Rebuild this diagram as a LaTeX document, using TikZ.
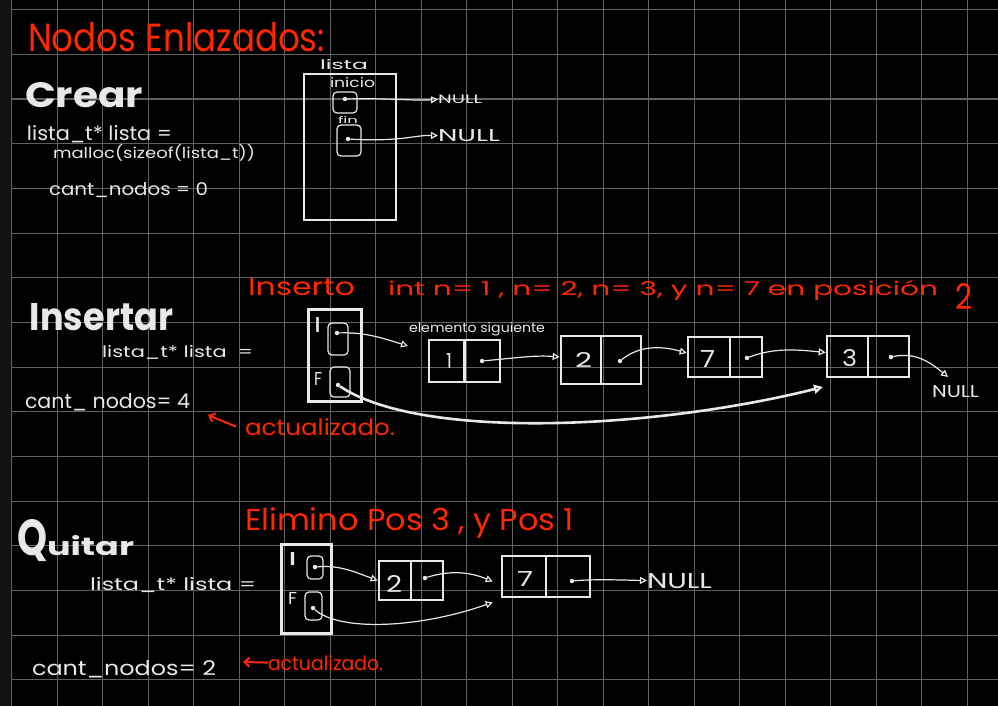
\documentclass[tikz,border=0pt]{standalone}
\usepackage{fontspec}
\setmainfont{Poppins}
\usepackage{graphicx}
\usetikzlibrary{arrows.meta,calc}
\definecolor{ink}{RGB}{232,232,232}
\definecolor{redink}{RGB}{255,40,0}
\definecolor{gridc}{RGB}{96,96,96}
\definecolor{strip}{RGB}{18,18,18}
\newcommand{\hw}[3]{\resizebox{#1pt}{#2pt}{#3}}
\begin{document}
\begin{tikzpicture}[x=1pt,y=-1pt,
  txt/.style={anchor=base west, inner sep=0pt, outer sep=0pt, text=ink},
  rtxt/.style={txt, text=redink},
  hdrbox/.style={draw=ink, line width=2.6pt, inner sep=0pt},
  cell/.style={draw=ink, line width=2.6pt, inner sep=0pt},
  divider/.style={draw=ink, line width=2.6pt},
  ptr/.style={draw=ink, line width=1.2pt, rounded corners=4pt, inner sep=0pt},
  dot/.style={circle, fill=ink, inner sep=0pt, minimum size=4.5pt},
  link/.style={draw=ink, line width=1.2pt, -{Triangle[open,length=7pt,width=7pt]}},
  biglink/.style={draw=ink, line width=2.6pt, -{Triangle[open,length=9pt,width=9pt]}},
  redarrow/.style={draw=redink, line width=2pt, -{Straight Barb[length=5pt,width=9pt]}},
  gridline/.style={draw=gridc, line width=1.1pt}
]
\useasboundingbox (0,0) rectangle (998,706);
\fill[black] (0,0) rectangle (998,706);
\fill[strip] (0,0) rectangle (11,706);
\foreach \k in {0,...,21} \draw[gridline] ({11.7+45.5*\k},0) -- ({11.7+45.5*\k},706);
\foreach \k in {0,...,15} \draw[gridline] (11.7,{9.7+44.67*\k}) -- (998,{9.7+44.67*\k});

% ---------- Crear ----------
\node[rtxt] (title) at (28,52) {\hw{297}{29}{Nodos Enlazados:}};
\node[txt] (crear) at (25,108) {\bfseries\hw{118}{25}{Crear}};
\node[txt] (decl1) at (27,140) {\hw{145}{15}{lista\_t* lista =}};
\node[txt] (malloc) at (53,159) {\hw{202}{14}{malloc(sizeof(lista\_t))}};
\node[txt] (cant1) at (49,195) {\hw{159}{13}{cant\_nodos = 0}};
\node[txt] (listalbl) at (320,70) {\hw{48}{10}{lista}};
\node[hdrbox, minimum width=92pt, minimum height=146pt] (listabox) at (350,147) {};
\node[txt] (inicio) at (330,88) {\hw{45}{10}{inicio}};
\node[ptr, minimum width=24pt, minimum height=21pt] (p1) at (345,102.5) {};
\node[dot] (d1) at (345,99) {};
\node[txt] (fin) at (338,123.5) {\hw{20}{7}{fin}};
\node[ptr, minimum width=24pt, minimum height=31pt] (p2) at (349,140.5) {};
\node[dot] (d2) at (348,139) {};
\node[txt] (null1) at (438,103.5) {\hw{44}{8.5}{NULL}};
\node[txt] (null2) at (438,141.5) {\hw{62}{12}{NULL}};
\draw[link] (d1) .. controls (390,98) and (415,101) .. (null1.west);
\draw[link] (d2) .. controls (400,142) and (415,135) .. (null2.west);

% ---------- Insertar ----------
\node[rtxt] (ins) at (248,295) {\hw{107}{17}{Inserto}};
\node[rtxt] (insdesc) at (388,295) {\hw{550}{15}{int n= 1 , n= 2, n= 3, y n= 7 en posición}};
\node[rtxt] (insdesc2) at (955,309) {\hw{17}{26}{2}};
\node[txt] (insertar) at (30,330) {\bfseries\hw{143}{27}{Insertar}};
\node[txt] (decl2) at (102,357) {\hw{151}{12}{lista\_t* lista \ =}};
\node[txt] (cant2) at (25,408) {\hw{165}{15}{cant\_ nodos= 4}};
\node[rtxt] (act1) at (245,435) {\hw{150}{17}{actualizado.}};
\coordinate (a1tip) at (208,415);
\draw[redarrow] ($(act1.west)+(-9,0)$) -- (a1tip);
\node[txt] (elem) at (409,332) {\hw{136}{10}{elemento siguiente}};

\node[hdrbox, minimum width=53pt, minimum height=92pt] (hdr2) at (335,355.5) {};
\node[txt] (I2) at (314,332) {\hw{7}{15}{I}};
\node[txt] (F2) at (314,385) {\hw{8}{13}{F}};
\node[ptr, minimum width=20pt, minimum height=32pt] (pI2) at (338,339) {};
\node[dot] (dI2) at (337,333) {};
\node[ptr, minimum width=20pt, minimum height=30pt] (pF2) at (340,382) {};
\node[dot] (dF2) at (338,385) {};

\node[cell, minimum width=71pt, minimum height=42pt] (n1) at (464.5,361) {};
\draw[divider] (n1.north) -- (n1.south);
\node[txt] (v1) at (446,368) {\hw{6}{15}{1}};
\node[dot] (dn1) at (482,361) {};

\node[cell, minimum width=80pt, minimum height=48pt] (n2) at (601,360) {};
\draw[divider] (n2.north) -- (n2.south);
\node[txt] (v2) at (575,367) {\hw{17}{15}{2}};
\node[dot] (dn2) at (620,361) {};

\node[cell, minimum width=74pt, minimum height=40pt] (n7) at (725,357) {};
\draw[divider] ($(n7.north)+(5,0)$) -- ($(n7.south)+(5,0)$);
\node[txt] (v7) at (700,367) {\hw{15}{17}{7}};
\node[dot] (dn7) at (747,358) {};

\node[cell, minimum width=82pt, minimum height=41pt] (n3) at (868,356.5) {};
\draw[divider] (n3.north) -- (n3.south);
\node[txt] (v3) at (842,366) {\hw{15}{17}{3}};
\node[dot] (dn3) at (891,357) {};

\node[txt] (null3) at (932,397) {\hw{47}{12}{NULL}};
\coordinate (elemfree) at (408,346);
\coordinate (null3tip) at (948,377);
\coordinate (longtip) at (823,387);
\draw[link] (dI2) .. controls (365,332) and (382,338) .. (elemfree);
\draw[link] (dn1) .. controls (515,358) and (535,355) .. ($(n2.west)+(0,-3)$);
\draw[link] (dn2) .. controls (640,345) and (662,346) .. ($(n7.west)+(0,-4)$);
\draw[link] (dn7) .. controls (775,347) and (800,350) .. ($(n3.west)+(0,-4)$);
\draw[link] (dn3) .. controls (915,352) and (930,362) .. (null3tip);
\draw[biglink] (dF2) .. controls (420,440) and (650,430) .. (longtip);

% ---------- Quitar ----------
\node[rtxt] (elim) at (245,530) {\hw{329}{23}{Elimino Pos 3 , y Pos 1}};
\node[txt] (quitar) at (17,555) {\bfseries\hw{30}{36}{Q}\hw{87}{20}{uitar}};
\node[txt] (decl3) at (90,590) {\hw{166}{13}{lista\_t* lista =}};
\node[txt] (cant3) at (32,675) {\hw{184}{15}{cant\_nodos= 2}};
\node[rtxt] (act2) at (268,670) {\hw{115}{15}{actualizado.}};
\coordinate (a2tip) at (243,662);
\draw[redarrow] (act2.west) -- (a2tip);

\node[hdrbox, minimum width=50pt, minimum height=89pt] (hdr3) at (306.7,588.7) {};
\node[txt] (I3) at (288,565) {\hw{9}{13}{I}};
\node[txt] (F3) at (288,604) {\hw{9}{12}{F}};
\node[ptr, minimum width=16pt, minimum height=23pt] (pI3) at (315,567.5) {};
\node[dot] (dI3) at (315,567) {};
\node[ptr, minimum width=17pt, minimum height=28pt] (pF3) at (313.5,606) {};
\node[dot] (dF3) at (313,608) {};

\node[cell, minimum width=64pt, minimum height=39pt] (q2) at (411,580.5) {};
\draw[divider] (q2.north) -- (q2.south);
\node[txt] (vq2) at (386,592) {\hw{16}{17}{2}};
\node[dot] (dq2) at (425,578) {};

\node[cell, minimum width=88pt, minimum height=41pt] (q7) at (546,576.5) {};
\draw[divider] (q7.north) -- (q7.south);
\node[txt] (vq7) at (517,586) {\hw{16}{15}{7}};
\node[dot] (dq7) at (572,581) {};

\node[txt] (null4) at (647,588) {\hw{65}{15}{NULL}};
\draw[link] (dI3) .. controls (340,565) and (355,572) .. (q2.west);
\draw[link] (dq2) .. controls (450,570) and (470,572) .. ($(q7.west)+(-8,5)$);
\draw[link] (dF3) .. controls (340,632) and (420,628) .. ($(q7.south west)+(-8,4)$);
\draw[link] (dq7) .. controls (595,579) and (620,580) .. (null4.west);
\end{tikzpicture}
\end{document}
